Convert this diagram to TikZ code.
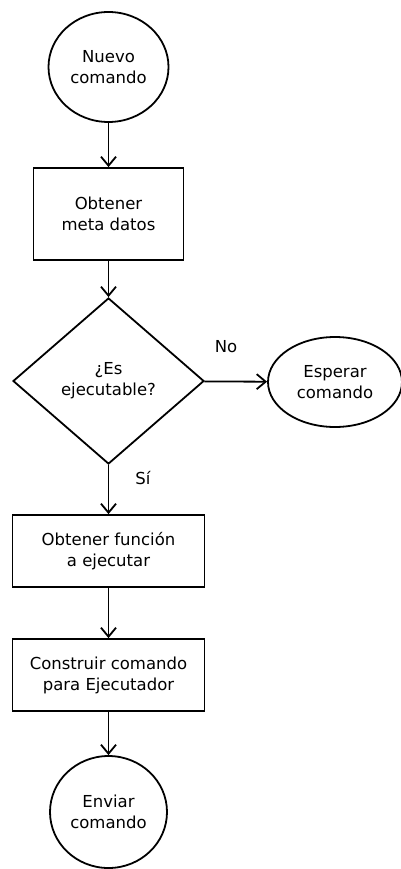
\documentclass[tikz,border=0pt]{standalone}
\usepackage{fontspec}
\setmainfont{DejaVu Sans}
\usetikzlibrary{shapes.geometric,arrows.meta}
\tikzset{
  paso/.style={draw,line width=1.8pt,minimum width=150pt,minimum height=92pt,inner sep=0pt,align=center},
  terminal/.style={draw,ellipse,line width=1.8pt,inner sep=0pt,align=center},
  decision/.style={draw,diamond,aspect=1,minimum width=191pt,minimum height=166pt,inner sep=0pt,line width=1.8pt,align=center},
  flecha/.style={line width=1.8pt,-{Straight Barb[length=9pt,width=15pt,line width=1.8pt]}}
}
\begin{document}
\begin{tikzpicture}[x=1pt,y=1pt,font=\fontsize{16.5}{21}\selectfont]
\useasboundingbox (0,0) rectangle (401,-869);
\node[terminal,minimum width=120pt,minimum height=110pt] (nuevo) at (108.5,-67) {Nuevo\\comando};
\node[paso] (meta) at (108.5,-214) {Obtener\\meta datos};
\node[decision] (ejec) at (108.5,-381) {¿Es\\ejecutable?};
\node[terminal,minimum width=134pt,minimum height=90pt] (esperar) at (335,-382) {Esperar\\comando};
\node[paso,minimum width=192pt,minimum height=72pt] (funcion) at (108.5,-551) {Obtener función\\a ejecutar};
\node[paso,minimum width=192pt,minimum height=72pt] (construir) at (108.5,-675) {Construir comando\\para Ejecutador};
\node[terminal,minimum width=117pt,minimum height=112pt] (enviar) at (108.5,-812) {Enviar\\comando};
\node (no) at (226,-347) {No};
\node (si) at (143,-478) {Sí};

\draw[flecha] (nuevo) -- (meta);
\draw[flecha] (meta) -- (ejec);
\draw[flecha] (ejec) -- (esperar);
\draw[flecha] (ejec) -- (funcion);
\draw[flecha] (funcion) -- (construir);
\draw[flecha] (construir) -- (enviar);
\end{tikzpicture}
\end{document}
